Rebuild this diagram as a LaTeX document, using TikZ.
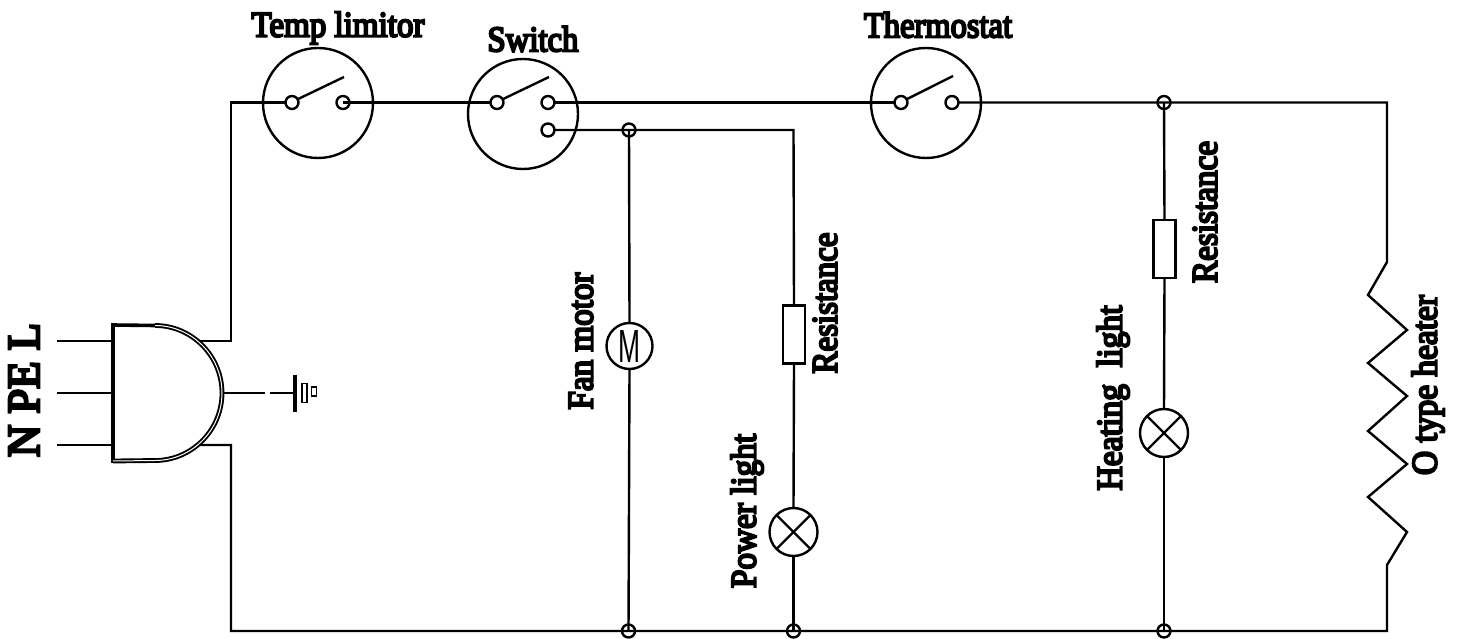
\documentclass[tikz,border=0pt]{standalone}
\usepackage{fontspec}
\usepackage{graphicx}
\newfontfamily\lblfont[FakeBold=6]{Liberation Serif}
\newfontfamily\thinfont{Liberation Sans}
\newcommand{\fitw}[2]{\resizebox{#1pt}{\height}{#2}}
\tikzset{
  wire/.style={draw=black,line width=2.4pt,line join=miter},
  big/.style={circle,draw=black,line width=2.4pt,minimum size=110pt,inner sep=0pt,outer sep=0pt},
  contact/.style={circle,draw=black,line width=2.4pt,minimum size=13pt,inner sep=0pt,outer sep=0pt},
  lamp/.style={circle,draw=black,line width=2.4pt,minimum size=48pt,inner sep=0pt,outer sep=0pt},
  motor/.style={circle,draw=black,line width=2.4pt,minimum size=46pt,inner sep=0pt,outer sep=0pt},
  res/.style={rectangle,draw=black,line width=2.4pt,minimum width=22pt,minimum height=58pt,inner sep=0pt,outer sep=0pt},
  lbl/.style={font=\lblfont\fontsize{36}{36}\selectfont,inner sep=0pt,outer sep=0pt},
  vlbl/.style={lbl,rotate=90}
}
\begin{document}
\begin{tikzpicture}[x=1pt,y=-1pt]
\useasboundingbox (0,0) rectangle (1465,639);
% plug
\coordinate (pTop) at (113,325);
\coordinate (pArcT) at (155,325.5);
\coordinate (pArcM) at (222,393);
\coordinate (pArcB) at (155,460.5);
\coordinate (pBot) at (113,461);
\coordinate (pL) at (199,341);
\coordinate (pE) at (224,393);
\coordinate (pN) at (199,445);
\coordinate (pinL) at (57,341);
\coordinate (pinE) at (57,393);
\coordinate (pinN) at (57,445);
\coordinate (pinLi) at (113,341);
\coordinate (pinEi) at (113,393);
\coordinate (pinNi) at (113,445);
\draw[line width=3.6pt,line cap=rect] (pTop) -- (pBot);
\draw[line width=1.9pt,double=white,double distance=1pt] (pArcT) .. controls (192,325.5) and (222,356) .. (pArcM) .. controls (222,430) and (192,460.5) .. (pArcB);
\draw[line width=3.6pt] (pTop) -- (pArcT);
\draw[line width=1.9pt,double=white,double distance=1pt] (pBot) -- (pArcB);
\draw[wire] (pinL) -- (pinLi);
\draw[wire] (pinE) -- (pinEi);
\draw[wire] (pinN) -- (pinNi);
% earth
\coordinate (gA) at (265,393);
\coordinate (gB) at (270,393);
\coordinate (gC) at (295,393);
\coordinate (gT) at (295,375);
\coordinate (gU) at (295,412);
\draw[wire] (pE) -- (gA);
\draw[wire] (gB) -- (gC);
\draw[line width=3.6pt] (gT) -- (gU);
\node[rectangle,draw=black,line width=1.8pt,minimum width=5pt,minimum height=19pt,inner sep=0pt] (g1) at (304.5,393) {};
\node[rectangle,draw=black,line width=1.8pt,minimum width=5pt,minimum height=9pt,inner sep=0pt] (g2) at (314,391.5) {};
% switches
\node[big] (tl) at (318,103) {};
\node[contact] (tl1) at (292,102.5) {};
\node[contact] (tl2) at (343,102.5) {};
\coordinate (tlf) at (344,77);
\node[big] (sw) at (523,114) {};
\node[contact] (sw1) at (497,102.5) {};
\node[contact] (sw2) at (548,102.5) {};
\node[contact] (sw3) at (548,130) {};
\coordinate (swf) at (549,77);
\node[big] (th) at (926,103) {};
\node[contact] (th1) at (901,102.5) {};
\node[contact] (th2) at (952,102.5) {};
\coordinate (thf) at (953,76);
\draw[wire] (tl1.30) -- (tlf);
\draw[wire] (sw1.30) -- (swf);
\draw[wire] (th1.30) -- (thf);
% junctions
\node[contact] (j1) at (629,130) {};
\node[contact] (j2) at (1164,102.5) {};
\node[contact] (j3) at (628.5,631) {};
\node[contact] (j4) at (793.5,631) {};
\node[contact] (j5) at (1164,631) {};
% components
\node[motor] (m) at (629.5,346) {\thinfont\fontsize{32}{32}\selectfont\resizebox{22pt}{32pt}{M}};
\node[res] (r1) at (794,334.5) {};
\node[lamp] (l1) at (793.5,532) {};
\node[res] (r2) at (1164.5,249) {};
\node[lamp] (l2) at (1164,433) {};
\draw[wire] (l1.45) -- (l1.225);
\draw[wire] (l1.135) -- (l1.315);
\draw[wire] (l2.45) -- (l2.225);
\draw[wire] (l2.135) -- (l2.315);
% corners
\coordinate (cA) at (231,341);
\coordinate (cB) at (231,102.5);
\coordinate (cC) at (1387,102.5);
\coordinate (cD) at (1387,631);
\coordinate (cE) at (231,631);
\coordinate (cF) at (231,445);
\coordinate (cG) at (793.5,130);
\draw[wire] (pL) -- (cA) -- (cB) -- (tl1.west);
\draw[wire] (tl2.center) -- (sw1.west);
\draw[wire] (sw2.east) -- (th1.west);
\draw[wire] (th2.east) -- (j2.center) -- (cC)
  -- (1387,262) -- (1368,295) -- (1407,330) -- (1368,363) -- (1407,396)
  -- (1368,431) -- (1407,464) -- (1368,497) -- (1407,532) -- (1387,565) -- (cD)
  -- (j5.center) -- (j4.center) -- (j3.center) -- (cE) -- (cF) -- (pN);
\draw[wire] (sw3.east) -- (j1.center) -- (cG) -- (r1.north);
\draw[wire] (j1.center) -- (m.north);
\draw[wire] (m.south) -- (j3.center);
\draw[wire] (r1.south) -- (l1.north);
\draw[wire] (l1.south) -- (j4.center);
\draw[wire] (j2.center) -- (r2.north);
\draw[wire] (r2.south) -- (l2.north);
\draw[wire] (l2.south) -- (j5.center);
% labels
\node[lbl] (t1) at (338,28) {\fitw{173}{Temp limitor}};
\node[lbl] (t2) at (533,39) {\fitw{91}{Switch}};
\node[lbl] (t3) at (938,25) {\fitw{148}{Thermostat}};
\node[vlbl] (t4) at (581,341) {\fitw{137}{Fan motor}};
\node[vlbl] (t5) at (825,303) {\fitw{141}{Resistance}};
\node[vlbl] (t6) at (747,511) {\fitw{154}{Power light}};
\node[vlbl] (t7) at (1113,398) {\fitw{185}{Heating\ \ light}};
\node[vlbl] (t8) at (1205,212) {\fitw{142}{Resistance}};
\node[vlbl] (t9) at (1428,385) {\fitw{180}{O type heater}};
\node[vlbl,font=\lblfont\fontsize{46}{46}\selectfont] (t10) at (24,390) {\fitw{134}{N PE L}};
\end{tikzpicture}
\end{document}
